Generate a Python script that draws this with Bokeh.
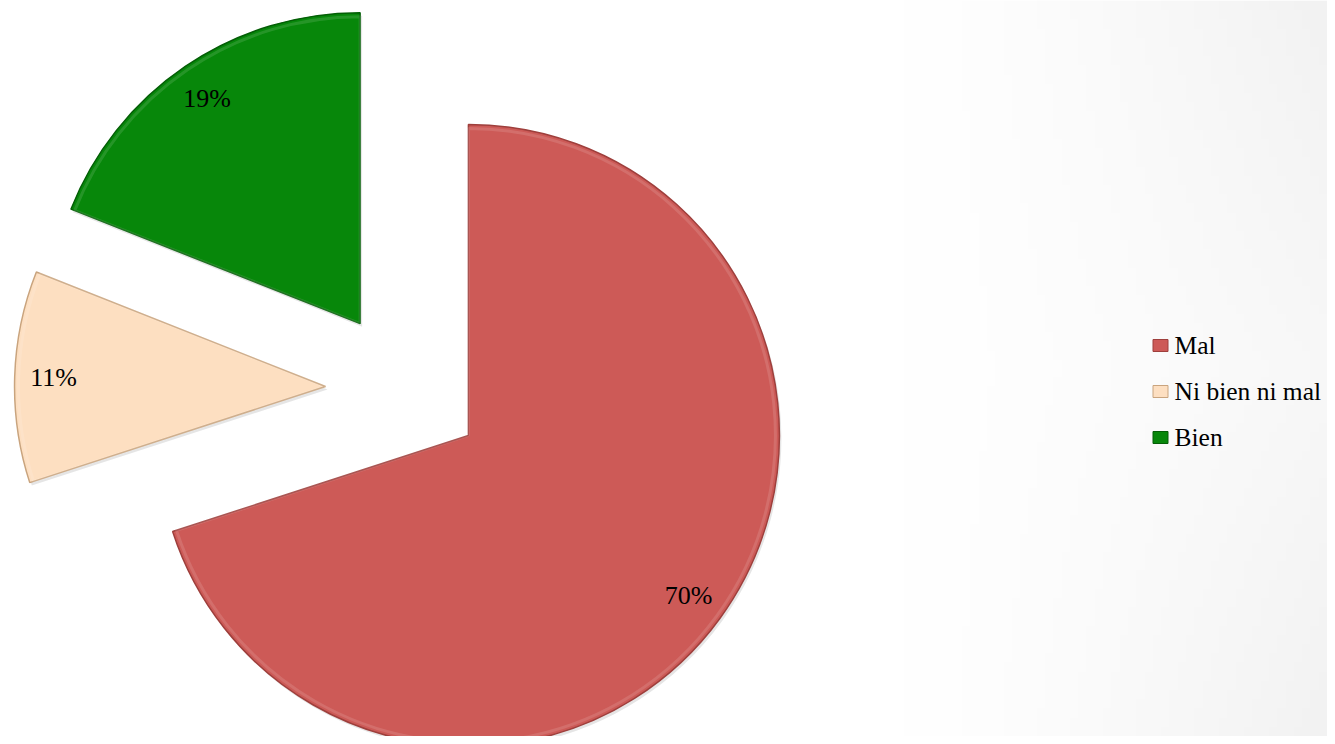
import math
import numpy as np
from bokeh.plotting import figure
from bokeh.models import ColumnDataSource, Range1d
from bokeh.core.properties import value
from bokeh.transform import dodge
from bokeh.embed import file_html
from bokeh.resources import INLINE

# ---- data ----
categories = ["Mal", "Ni bien ni mal", "Bien"]
values = [70, 11, 19]
labels = ["70%", "11%", "19%"]
colors = ["#CD5A57", "#FDDFC1", "#07870A"]
edge_colors = ["#9E3F3C", "#C9A47E", "#045E06"]

# ---- layout (pixels) ----
W, H = 1327, 736
cx, cy = 404, 347.5      # pie centre
R = 311                  # radius
EXPLODE = 79             # explosion distance
LABEL_F = 0.875          # label distance as fraction of radius

total = float(sum(values))
xs, ys, starts, ends, lx, ly = [], [], [], [], [], []
cum = 0.0
for v in values:
    t0 = cum / total * 360.0          # clockwise from 12 o'clock
    t1 = (cum + v) / total * 360.0
    cum += v
    s = math.radians(90 - t1)
    e = math.radians(90 - t0)
    mid = (s + e) / 2
    ox = cx + EXPLODE * math.cos(mid)
    oy = cy + EXPLODE * math.sin(mid)
    xs.append(ox); ys.append(oy); starts.append(s); ends.append(e)
    lx.append(ox + LABEL_F * R * math.cos(mid))
    ly.append(oy + LABEL_F * R * math.sin(mid))

src = ColumnDataSource(dict(x=xs, y=ys, start=starts, end=ends, color=colors,
                            edge=edge_colors, lx=lx, ly=ly, label=labels, cat=categories))

p = figure(width=W, height=H, output_backend="svg", toolbar_location=None,
           x_range=Range1d(0, W), y_range=Range1d(0, H), min_border=0)
p.axis.visible = False
p.grid.visible = False
p.outline_line_color = None
p.background_fill_color = "white"
p.border_fill_color = "white"

# subtle background shading toward the right (decoration)
gw, gh = 160, 80
gx = np.linspace(0, 1, gw)[None, :]
gy = np.linspace(0, 1, gh)[:, None]
shade = np.clip((gx - 0.68) / 0.32, 0, 1) ** 1.3 * (0.55 + 0.45 * np.abs(gy - 0.5) * 2)
g = (255 - 13 * shade).astype(np.uint32)
img = (255 << 24) | (g << 16) | (g << 8) | g
p.image_rgba(image=[img.astype(np.uint32)], x=0, y=0, dw=W, dh=H)

# soft shadow
p.wedge(x=dodge("x", 2), y=dodge("y", -3), radius=R, start_angle="start", end_angle="end",
        source=src, fill_color="#000000", fill_alpha=0.10, line_color=None)
# slices
p.wedge(x="x", y="y", radius=R, start_angle="start", end_angle="end", source=src,
        fill_color="color", line_color="edge", line_width=1.5)
# bevel highlight
p.wedge(x="x", y="y", radius=R - 4, start_angle="start", end_angle="end", source=src,
        fill_color=None, line_color="white", line_alpha=0.12, line_width=3)

p.text(x="lx", y="ly", text="label", source=src, text_align="center",
       text_baseline="middle", text_font=value("Liberation Serif"),
       text_font_size="26px", text_color="black")

# legend
leg_x = 1160
leg_y = [391, 345, 299]
leg = ColumnDataSource(dict(x=[leg_x] * 3, y=leg_y, tx=[leg_x + 14] * 3,
                            color=colors, edge=edge_colors, cat=categories))
p.rect(x="x", y="y", width=15, height=12, source=leg,
       fill_color="color", line_color="edge", line_width=1)
p.text(x="tx", y="y", text="cat", source=leg, text_align="left",
       text_baseline="middle", text_font=value("Liberation Serif"),
       text_font_size="25.5px", text_color="black")

open("out.html", "w").write(file_html(p, INLINE))
